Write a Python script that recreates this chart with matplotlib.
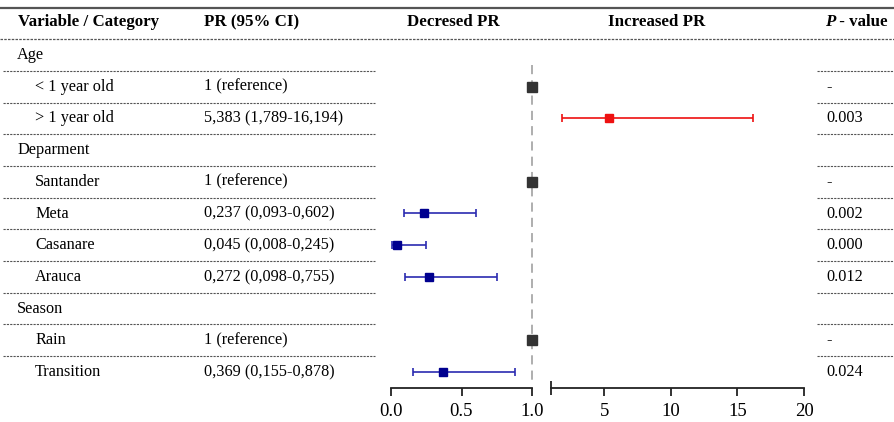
import matplotlib
matplotlib.use('Agg')
import matplotlib.pyplot as plt
import numpy as np

plt.rcParams['font.family'] = ['Liberation Serif', 'DejaVu Serif']

# ---------------- data ----------------
headers = ["Variable / Category", "PR (95% CI)", "Decresed PR", "Increased PR", "P", " - value"]
labels = ["Age", "< 1 year old", "> 1 year old", "Deparment", "Santander", "Meta",
          "Casanare", "Arauca", "Season", "Rain", "Transition"]
is_group = [True, False, False, True, False, False, False, False, True, False, False]
pr_text = ["", "1 (reference)", "5,383 (1,789-16,194)", "", "1 (reference)",
           "0,237 (0,093-0,602)", "0,045 (0,008-0,245)", "0,272 (0,098-0,755)", "",
           "1 (reference)", "0,369 (0,155-0,878)"]
nan = np.nan
pr = [nan, 1, 5.383, nan, 1, 0.237, 0.045, 0.272, nan, 1, 0.369]
ci_low = [nan, nan, 1.789, nan, nan, 0.093, 0.008, 0.098, nan, nan, 0.155]
ci_high = [nan, nan, 16.194, nan, nan, 0.602, 0.245, 0.755, nan, nan, 0.878]
pvals = ["", "-", "0.003", "", "-", "0.002", "0.000", "0.012", "", "-", "0.024"]
left_ticks = [0.0, 0.5, 1.0]
left_ticklabels = ["0.0", "0.5", "1.0"]
right_ticks = [5, 10, 15, 20]
right_ticklabels = ["5", "10", "15", "20"]

# ---------------- layout ----------------
W, H = 894, 422
fig = plt.figure(figsize=(W / 100, H / 100), dpi=100)
FS = 11.7
HFS = 12.2
TFS = 13.5
row0_px, pitch = 55.0, 31.7
n = len(labels)

def r2px(r):
    return row0_px + pitch * r

# background axis: x in pixels, y in row units
ax0 = fig.add_axes([0, 0, 1, 1])
ax0.set_xlim(0, W)
ax0.set_ylim((H - row0_px) / pitch, -row0_px / pitch)
ax0.axis('off')

line_col = '#555555'
# top solid line
ax0.plot([0, W], [(8 - row0_px) / pitch] * 2, color='#555555', lw=1.6, solid_capstyle='butt')
# header text
hy = (22 - row0_px) / pitch
ax0.text(18, hy, headers[0], fontsize=HFS, fontweight='bold', va='center', ha='left')
ax0.text(204, hy, headers[1], fontsize=HFS, fontweight='bold', va='center', ha='left')
ax0.text(453, hy, headers[2], fontsize=HFS, fontweight='bold', va='center', ha='center')
ax0.text(657, hy, headers[3], fontsize=HFS, fontweight='bold', va='center', ha='center')
tP = ax0.text(825, hy, headers[4], fontsize=HFS, fontweight='bold', fontstyle='italic',
              va='center', ha='left')
fig.canvas.draw()
bb = tP.get_window_extent()
ax0.text(bb.x1, hy, headers[5], fontsize=HFS, fontweight='bold', va='center', ha='left')
# header separator (full width)
ax0.plot([0, W], [-0.5, -0.5], color=line_col, lw=0.9, ls=(0, (2, 1)))

for i in range(n):
    x = 17 if is_group[i] else 35
    ax0.text(x, i, labels[i], fontsize=FS, va='center', ha='left')
    if pr_text[i]:
        ax0.text(204, i, pr_text[i], fontsize=FS, va='center', ha='left')
    if pvals[i]:
        ax0.text(826, i, pvals[i], fontsize=FS, va='center', ha='left')
    if i < n - 1:
        ax0.plot([3, 375], [i + 0.5] * 2, color=line_col, lw=0.8, ls=(0, (2, 1)))
        ax0.plot([817, W], [i + 0.5] * 2, color=line_col, lw=0.8, ls=(0, (2, 1)))

# data axes
top_px, bot_px = r2px(-0.5), r2px(n - 0.5)
bottom = 1 - bot_px / H
height = (bot_px - top_px) / H
axL = fig.add_axes([391 / W, bottom, (532 - 391) / W, height])
axR = fig.add_axes([551 / W, bottom, (804 - 551) / W, height])
axL.set_xlim(0, 1.0)
axR.set_xlim(1, 20)
for ax in (axL, axR):
    ax.set_ylim(n - 0.5, -0.5)
    ax.patch.set_visible(False)
    for s in ('top', 'left', 'right'):
        ax.spines[s].set_visible(False)
    ax.spines['bottom'].set_color('#222222')
    ax.spines['bottom'].set_linewidth(1.3)
    ax.set_yticks([])
    ax.tick_params(axis='x', direction='out', length=6, width=1.3, color='#222222',
                   labelsize=TFS, pad=5)
    ax.tick_params(axis='x', which='minor', direction='inout', length=10, width=1.3,
                   color='#222222')
axL.set_xticks(left_ticks)
axL.set_xticklabels(left_ticklabels)
axL.set_xticks([1.0], minor=True)
axR.set_xticks(right_ticks)
axR.set_xticklabels(right_ticklabels)
axR.set_xticks([1], minor=True)

# reference line
axL.plot([1, 1], [0.3, n - 0.6], color='#999999', lw=1.1, ls=(0, (6, 4)), clip_on=False, zorder=1)

blue_line, blue_mark = '#2b2bb0', '#00008f'
red = '#ee1111'
for i in range(n):
    if np.isnan(pr[i]):
        continue
    if pr[i] == 1:
        axL.plot([pr[i]], [i], marker='s', ms=6.5, color='#333333', clip_on=False, zorder=3)
    elif pr[i] < 1:
        axL.errorbar([pr[i]], [i], xerr=[[pr[i] - ci_low[i]], [ci_high[i] - pr[i]]],
                     fmt='s', ms=6, color=blue_mark, ecolor=blue_line, elinewidth=1.2,
                     capsize=3, capthick=1.2, clip_on=False, zorder=3)
    else:
        axR.errorbar([pr[i]], [i], xerr=[[pr[i] - ci_low[i]], [ci_high[i] - pr[i]]],
                     fmt='s', ms=6, color=red, ecolor=red, elinewidth=1.2,
                     capsize=3, capthick=1.2, clip_on=False, zorder=3)

fig.savefig('out.png', dpi=100)
